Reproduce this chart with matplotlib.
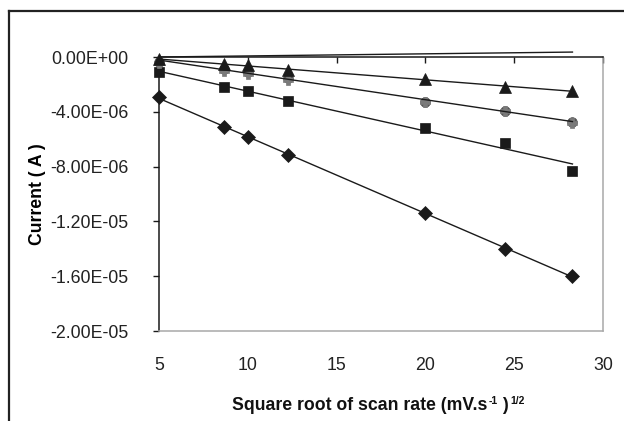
import matplotlib
matplotlib.use('Agg')
import matplotlib.pyplot as plt
from matplotlib.lines import Line2D
import numpy as np

plt.rcParams['font.family'] = ['Liberation Sans', 'DejaVu Sans']

# square root of scan rate
x_rate = [5, 8.66, 10, 12.25, 20, 24.49, 28.28]

# peak currents (A) for each series
i_diamond = [-2.90e-6, -5.13e-6, -5.82e-6, -7.18e-6, -1.141e-5, -1.400e-5, -1.597e-5]
i_square = [-1.12e-6, -2.17e-6, -2.48e-6, -3.21e-6, -5.16e-6, -6.25e-6, -8.32e-6]
i_circle = [-0.34e-6, -0.90e-6, -1.12e-6, -1.50e-6, -3.28e-6, -3.92e-6, -4.72e-6]
i_plus = [-0.45e-6, -1.00e-6, -1.22e-6, -1.65e-6, -3.32e-6, -3.96e-6, -4.82e-6]
i_triangle = [-0.18e-6, -0.50e-6, -0.58e-6, -0.95e-6, -1.63e-6, -2.17e-6, -2.48e-6]

# blank line without markers
x_blank = [5, 28.28]
i_blank = [0.0, 0.36e-6]

x_ticks = [5, 10, 15, 20, 25, 30]
y_ticks = [0, -4e-6, -8e-6, -1.2e-5, -1.6e-5, -2e-5]
y_ticklabels = ['0.00E+00', '-4.00E-06', '-8.00E-06', '-1.20E-05', '-1.60E-05', '-2.00E-05']

fig = plt.figure(figsize=(6.24, 4.21), dpi=100)
ax = fig.add_axes([159 / 624, 1 - 331 / 421, 444 / 624, 274 / 421])

dark = '#1a1a1a'
series = [
    (i_diamond, 'D', dark, 7.0, True),
    (i_square, 's', dark, 6.8, True),
    (i_circle, 'o', '#555555', 7.0, True),
    (i_plus, 'P', '#7a7a7a', 6.5, False),
    (i_triangle, '^', dark, 8.5, True),
]
xs = np.array(x_rate)
for vals, mk, col, ms, trend in series:
    ax.plot(x_rate, vals, linestyle='none', marker=mk, color=col,
            markersize=ms, markeredgewidth=0.5, zorder=3, clip_on=False)
    if trend:
        k, b = np.polyfit(xs, vals, 1)
        xx = np.array([xs[0], xs[-1]])
        ax.plot(xx, k * xx + b, color=dark, linewidth=1.0, zorder=4, clip_on=False)

ax.plot(x_blank, i_blank, color=dark, linewidth=1.0, zorder=4, clip_on=False)

ax.set_xlim(5, 30)
ax.set_ylim(-2e-5, 0)
ax.set_xticks(x_ticks)
ax.set_xticklabels([str(t) for t in x_ticks])
ax.set_yticks(y_ticks)
ax.set_yticklabels(y_ticklabels)

ax.spines['left'].set_color(dark)
ax.spines['top'].set_color(dark)
ax.spines['right'].set_color('#a8a8a8')
ax.spines['bottom'].set_color('#a8a8a8')
for s in ax.spines.values():
    s.set_linewidth(1.1)

ax.tick_params(axis='x', bottom=False, top=True, direction='in', length=4.5,
               width=1.0, color=dark, labelbottom=True, labeltop=False,
               pad=18.5, labelsize=12.8, labelcolor='#222222')
ax.tick_params(axis='y', direction='out', length=4, width=1.0, color=dark,
               labelsize=12.8, labelcolor='#222222', pad=18)

ax.set_ylabel('Current ( A )', fontsize=12.7, fontweight='bold', labelpad=3)

# x label built from pieces so the superscripts keep a plain hyphen
lab = fig.text(232 / 624, 1 - 410 / 421, 'Square root of scan rate (mV.s',
               fontsize=12.7, fontweight='bold', ha='left', va='baseline',
               color='#111111')
sup1 = ax.annotate('-1', xy=(1, 1), xycoords=lab, xytext=(1, -3),
                   textcoords='offset points', fontsize=7.5, fontweight='bold',
                   ha='left', va='center', color='#111111')
par = ax.annotate(' )', xy=(1, 0), xycoords=(sup1, lab), xytext=(0, 0),
                  textcoords='offset points', fontsize=12.7, fontweight='bold',
                  ha='left', va='bottom', color='#111111')
ax.annotate('1/2', xy=(1, 1), xycoords=par, xytext=(1, -3),
            textcoords='offset points', fontsize=7.5, fontweight='bold',
            ha='left', va='center', color='#111111')

# chart area frame (cropped on right and bottom)
fig.add_artist(Line2D([9 / 624, 9 / 624], [0, 1 - 11 / 421],
                      transform=fig.transFigure, color='#222222', linewidth=1.6))
fig.add_artist(Line2D([9 / 624, 1], [1 - 11 / 421, 1 - 11 / 421],
                      transform=fig.transFigure, color='#222222', linewidth=1.6))

plt.savefig('out.png', dpi=100)
